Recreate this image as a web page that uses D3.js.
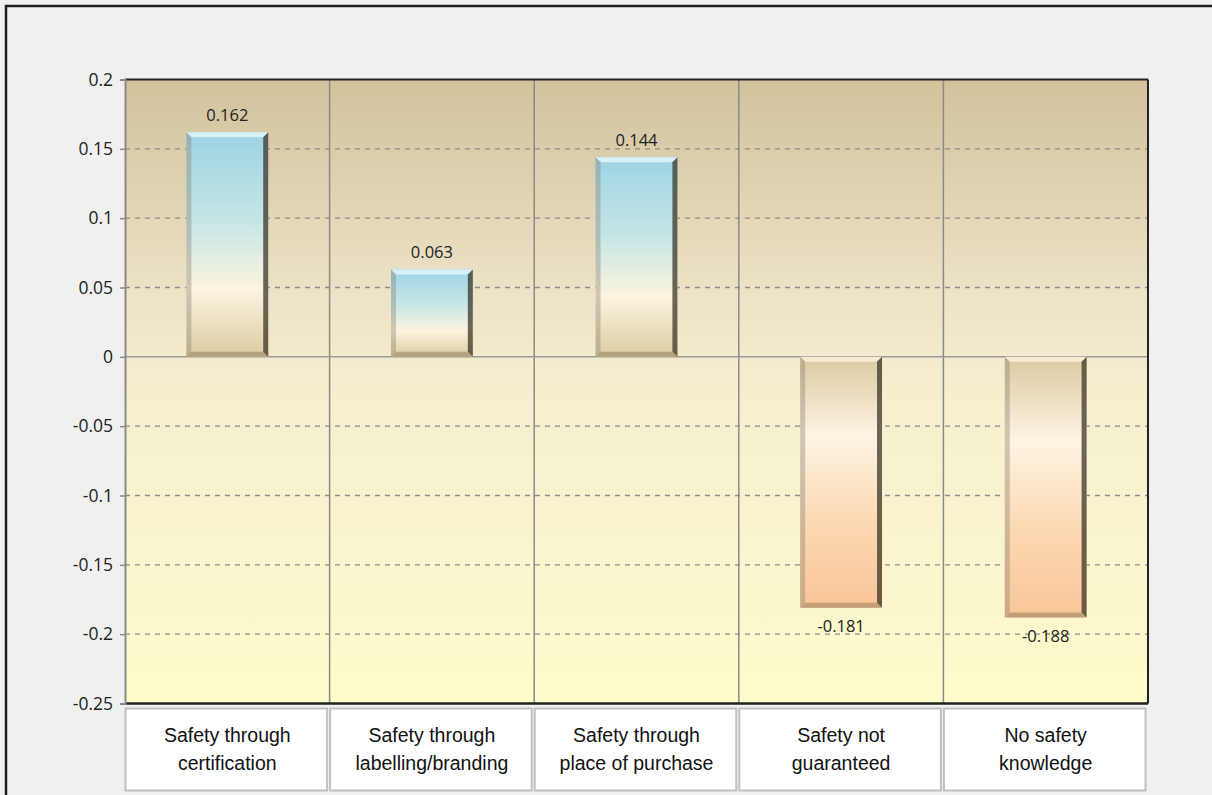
<!DOCTYPE html>
<html><head><meta charset="utf-8">
<script src="https://cdn.jsdelivr.net/npm/d3@7"></script>
<style>html,body{margin:0;padding:0;background:#f0f0f0;overflow:hidden}svg{display:block}</style>
</head><body>
<svg id="c" width="1212" height="795"></svg>
<script>
const categories = [
  ["Safety through", "certification"],
  ["Safety through", "labelling/branding"],
  ["Safety through", "place of purchase"],
  ["Safety not", "guaranteed"],
  ["No safety", "knowledge"]
];
const values = [0.162, 0.063, 0.144, -0.181, -0.188];
const valueLabels = ["0.162", "0.063", "0.144", "-0.181", "-0.188"];
const yTicks = [0.2, 0.15, 0.1, 0.05, 0, -0.05, -0.1, -0.15, -0.2, -0.25];
const yTickLabels = ["0.2", "0.15", "0.1", "0.05", "0", "-0.05", "-0.1", "-0.15", "-0.2", "-0.25"];

const svg = d3.select("#c");
const W = 1212, H = 795;
const L = 125, R = 1148, T = 79.5, B = 703.5;

svg.append("rect").attr("width", W).attr("height", H).attr("fill", "#f0f0f0");
// outer frame (left + top visible)
svg.append("rect").attr("x", 6).attr("y", 6).attr("width", W + 20).attr("height", H + 20)
  .attr("fill", "none").attr("stroke", "#1e1e1e").attr("stroke-width", 2.5);

const idx = categories.map((d, i) => i);
const x = d3.scaleBand().domain(idx).range([L, R]).paddingInner(0).paddingOuter(0);
const y = d3.scaleLinear().domain([-0.25, 0.2]).range([B, T]);

const defs = svg.append("defs");
const bg = defs.append("linearGradient").attr("id", "bg").attr("x1", 0).attr("y1", 0).attr("x2", 0).attr("y2", 1);
bg.append("stop").attr("offset", "0%").attr("stop-color", "#d2c29c");
bg.append("stop").attr("offset", "35%").attr("stop-color", "#ede3c8");
bg.append("stop").attr("offset", "50%").attr("stop-color", "#f5efd0");
bg.append("stop").attr("offset", "100%").attr("stop-color", "#fefbcb");

const gp = defs.append("linearGradient").attr("id", "gpos").attr("x1", 0).attr("y1", 0).attr("x2", 0).attr("y2", 1);
gp.append("stop").attr("offset", "0%").attr("stop-color", "#9dd3e4");
gp.append("stop").attr("offset", "40%").attr("stop-color", "#c6e6e6");
gp.append("stop").attr("offset", "70%").attr("stop-color", "#fcf4df");
gp.append("stop").attr("offset", "100%").attr("stop-color", "#dccba2");

const gn = defs.append("linearGradient").attr("id", "gneg").attr("x1", 0).attr("y1", 0).attr("x2", 0).attr("y2", 1);
gn.append("stop").attr("offset", "0%").attr("stop-color", "#ddc8a2");
gn.append("stop").attr("offset", "32%").attr("stop-color", "#fdf4e2");
gn.append("stop").attr("offset", "65%").attr("stop-color", "#fcd9b4");
gn.append("stop").attr("offset", "100%").attr("stop-color", "#f9c597");

// plot background
svg.append("rect").attr("x", L).attr("y", T).attr("width", R - L).attr("height", B - T).attr("fill", "url(#bg)");

// dashed gridlines
svg.append("g").selectAll("line").data(yTicks.filter(v => v !== 0 && v !== 0.2 && v !== -0.25)).join("line")
  .attr("x1", L).attr("x2", R).attr("y1", d => y(d)).attr("y2", d => y(d))
  .attr("stroke", "#8c8c8c").attr("stroke-width", 1.3).attr("stroke-dasharray", "5,5");

// category separators
svg.append("g").selectAll("line").data(idx.slice(1)).join("line")
  .attr("x1", d => x(d)).attr("x2", d => x(d)).attr("y1", T).attr("y2", B)
  .attr("stroke", "#8a8a8a").attr("stroke-width", 1.5);

// zero line
svg.append("line").attr("x1", L).attr("x2", R).attr("y1", y(0)).attr("y2", y(0))
  .attr("stroke", "#9a9a9a").attr("stroke-width", 1.5);

// bars
const bw = x.bandwidth() * 0.4;
const bars = svg.append("g");
values.forEach((v, i) => {
  const x0 = x(i) + (x.bandwidth() - bw) / 2, x1 = x0 + bw;
  const y0 = Math.min(y(v), y(0)), y1 = Math.max(y(v), y(0));
  const g = bars.append("g");
  g.append("rect").attr("x", x0).attr("y", y0).attr("width", bw).attr("height", y1 - y0)
    .attr("fill", v >= 0 ? "url(#gpos)" : "url(#gneg)");
  const e = 5;
  const poly = (pts, fill, op) => g.append("polygon").attr("points", pts.map(p => p.join(",")).join(" ")).attr("fill", fill).attr("opacity", op);
  poly([[x0, y0], [x1, y0], [x1 - e, y0 + e], [x0 + e, y0 + e]], v >= 0 ? "#e8fbff" : "#fff6e0", 0.75);
  poly([[x0, y0], [x0 + e, y0 + e], [x0 + e, y1 - e], [x0, y1]], "#8a8270", 0.4);
  poly([[x1, y0], [x1, y1], [x1 - e, y1 - e], [x1 - e, y0 + e]], "#3a3528", 0.75);
  poly([[x0, y1], [x1, y1], [x1 - e, y1 - e], [x0 + e, y1 - e]], "#7e6e50", 0.45);
});

// data labels
svg.append("g").selectAll("text").data(values).join("text")
  .attr("x", (d, i) => x(i) + x.bandwidth() / 2)
  .attr("y", d => d >= 0 ? y(d) - 11 : y(d) + 24)
  .attr("text-anchor", "middle")
  .attr("font-family", "'Open Sans', 'Noto Sans', sans-serif").attr("font-size", 16.5).attr("fill", "#222")
  .text((d, i) => valueLabels[i]);

// plot borders
svg.append("line").attr("x1", L).attr("x2", R).attr("y1", T).attr("y2", T).attr("stroke", "#222").attr("stroke-width", 2);
svg.append("line").attr("x1", L).attr("x2", R).attr("y1", B).attr("y2", B).attr("stroke", "#222").attr("stroke-width", 2.5);
svg.append("line").attr("x1", R).attr("x2", R).attr("y1", T).attr("y2", B).attr("stroke", "#222").attr("stroke-width", 2);

// y axis
const yAxis = d3.axisLeft(y).tickValues(yTicks).tickFormat((d, i) => yTickLabels[i]).tickSize(5).tickPadding(7);
const ya = svg.append("g").attr("transform", `translate(${L},0)`).call(yAxis);
ya.attr("font-size", null).attr("font-family", null);
ya.select(".domain").attr("stroke", "#8a8a8a").attr("stroke-width", 2);
ya.selectAll(".tick line").attr("stroke", "#8a8a8a").attr("stroke-width", 1.5);
ya.selectAll(".tick text").style("font-family", "'Open Sans', 'Noto Sans', sans-serif").style("font-size", "17.5px").attr("fill", "#222");

// category label boxes
const lb = svg.append("g");
idx.forEach(i => {
  const bx = x(i) + 0.5, bwid = x.bandwidth() - 3;
  lb.append("rect").attr("x", bx).attr("y", 708.5).attr("width", bwid).attr("height", 82)
    .attr("fill", "#ffffff").attr("stroke", "#c0c0c0").attr("stroke-width", 2);
  const t = lb.append("text").attr("x", x(i) + x.bandwidth() / 2).attr("y", 742)
    .attr("text-anchor", "middle").attr("font-family", "'Liberation Sans', Arial, sans-serif")
    .attr("font-size", 19.5).attr("fill", "#111");
  categories[i].forEach((s, k) => t.append("tspan").attr("x", x(i) + x.bandwidth() / 2).attr("dy", k === 0 ? 0 : 28).text(s));
});
</script>
</body></html>
